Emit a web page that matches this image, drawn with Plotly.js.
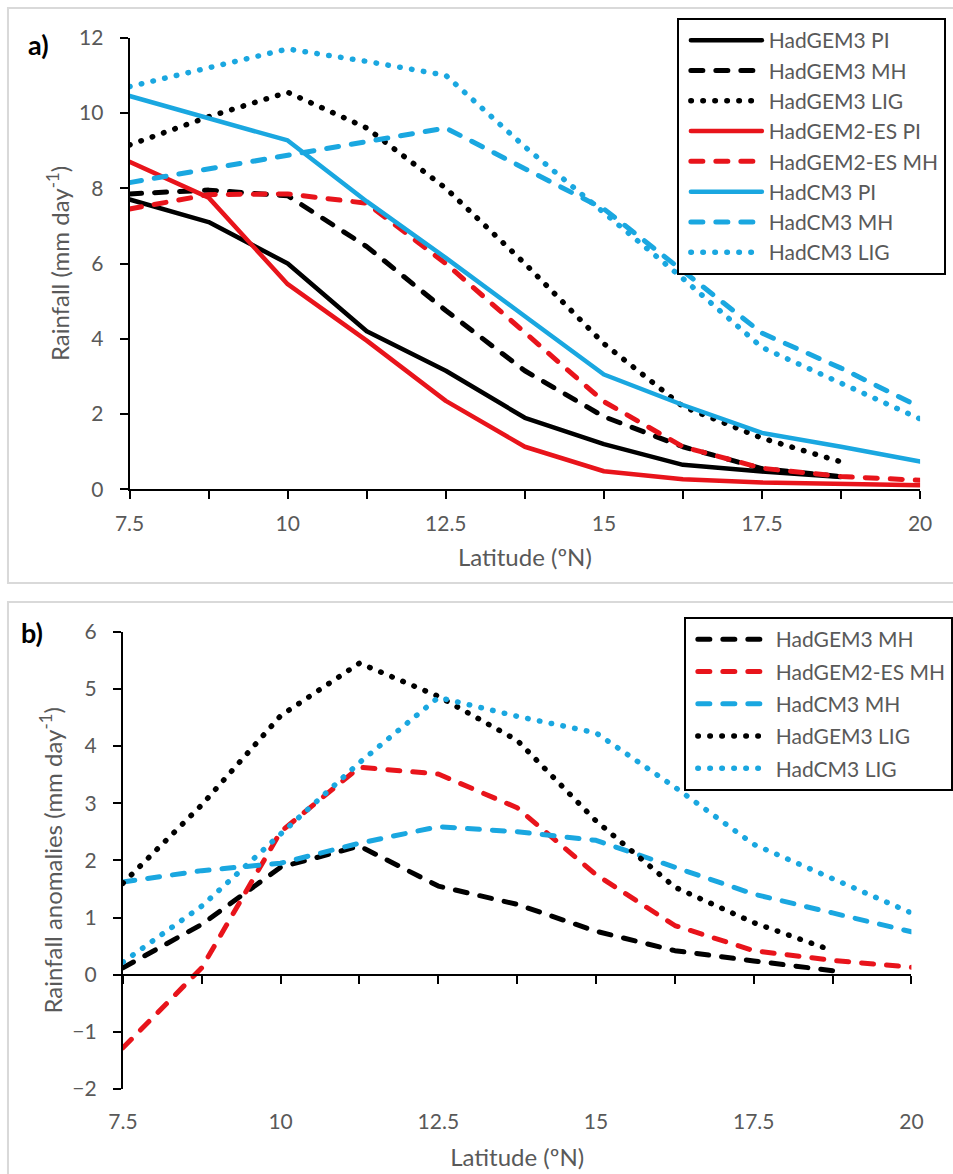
<!DOCTYPE html>
<html>
<head>
<meta charset="utf-8">
<script src="https://cdn.plot.ly/plotly-3.0.1.min.js"></script>
<style>html,body{margin:0;padding:0;background:#fff;}#chart{width:953px;height:1174px;}</style>
</head>
<body>
<div id="chart"></div>
<script>
// ---------- data ----------
const latitude = [7.5, 8.75, 10, 11.25, 12.5, 13.75, 15, 16.25, 17.5, 18.75, 20];
const latTickVals = [7.5, 10, 12.5, 15, 17.5, 20];
const latTickText = ['7.5', '10', '12.5', '15', '17.5', '20'];

// Panel a: rainfall (mm/day)
const hadgem3PI   = [7.7, 7.1, 6.0, 4.2, 3.15, 1.9, 1.2, 0.65, 0.47, 0.33, null];
const hadgem3MH   = [7.85, 7.95, 7.8, 6.45, 4.75, 3.15, 1.93, 1.13, 0.55, 0.34, null];
const hadgem3LIG  = [9.15, 9.9, 10.55, 9.6, 8.0, 6.0, 3.87, 2.2, 1.36, 0.73, null];
const hadgem2PI   = [8.7, 7.75, 5.45, 3.95, 2.35, 1.13, 0.48, 0.27, 0.18, 0.14, 0.11];
const hadgem2MH   = [7.45, 7.83, 7.85, 7.6, 6.0, 4.15, 2.33, 1.13, 0.56, 0.34, 0.24];
const hadcm3PI    = [10.45, 9.87, 9.27, 7.65, 6.15, 4.6, 3.05, 2.24, 1.5, 1.13, 0.74];
const hadcm3MH    = [8.15, 8.52, 8.88, 9.25, 9.6, 8.52, 7.45, 5.8, 4.15, 3.22, 2.18];
const hadcm3LIG   = [10.7, 11.2, 11.7, 11.37, 11.0, 9.1, 7.35, 5.6, 3.77, 2.82, 1.87];

// Panel b: rainfall anomalies (mm/day)
const anomHadgem3MH  = [0.12, 0.88, 1.88, 2.25, 1.55, 1.23, 0.76, 0.42, 0.24, 0.07, null];
const anomHadgem2MH  = [-1.28, 0.12, 2.5, 3.63, 3.51, 2.92, 1.75, 0.86, 0.42, 0.25, 0.13];
const anomHadcm3MH   = [1.62, 1.82, 1.95, 2.3, 2.59, 2.5, 2.35, 1.89, 1.41, 1.08, 0.75];
const anomHadgem3LIG = [1.6, 2.97, 4.53, 5.45, 4.87, 4.1, 2.69, 1.53, 0.91, 0.42, null];
const anomHadcm3LIG  = [0.22, 1.2, 2.46, 3.71, 4.85, 4.52, 4.23, 3.28, 2.28, 1.67, 1.08];

// ---------- styles ----------
const BLACK = '#000000', RED = '#E8141B', CYAN = '#1AA7E0';
const GREY = '#595959';
const FONT = 'Lato, "Open Sans", sans-serif';
const FS = 21, FS_TITLE = 24;
const W = 953, H = 1174;
const SOLID = 'solid', DASH = '12px,13px', DOT = '0.5px,11.5px';

function line(name, x, y, color, dash, xa, ya, leg) {
  return {
    type: 'scatter', mode: 'lines', name: name, x: x, y: y,
    xaxis: xa, yaxis: ya, legend: leg, connectgaps: false,
    line: {color: color, dash: dash, width: dash === SOLID ? 4.5 : (dash === DOT ? 5.5 : 5)},
    hoverinfo: 'skip'
  };
}

const traces = [
  line('HadGEM3 PI', latitude, hadgem3PI, BLACK, SOLID, 'x', 'y', 'legend'),
  line('HadGEM3 MH', latitude, hadgem3MH, BLACK, DASH, 'x', 'y', 'legend'),
  line('HadGEM3 LIG', latitude, hadgem3LIG, BLACK, DOT, 'x', 'y', 'legend'),
  line('HadGEM2-ES PI', latitude, hadgem2PI, RED, SOLID, 'x', 'y', 'legend'),
  line('HadGEM2-ES MH', latitude, hadgem2MH, RED, DASH, 'x', 'y', 'legend'),
  line('HadCM3 PI', latitude, hadcm3PI, CYAN, SOLID, 'x', 'y', 'legend'),
  line('HadCM3 MH', latitude, hadcm3MH, CYAN, DASH, 'x', 'y', 'legend'),
  line('HadCM3 LIG', latitude, hadcm3LIG, CYAN, DOT, 'x', 'y', 'legend'),

  line('HadGEM3 MH', latitude, anomHadgem3MH, BLACK, DASH, 'x2', 'y2', 'legend2'),
  line('HadGEM2-ES MH', latitude, anomHadgem2MH, RED, DASH, 'x2', 'y2', 'legend2'),
  line('HadCM3 MH', latitude, anomHadcm3MH, CYAN, DASH, 'x2', 'y2', 'legend2'),
  line('HadGEM3 LIG', latitude, anomHadgem3LIG, BLACK, DOT, 'x2', 'y2', 'legend2'),
  line('HadCM3 LIG', latitude, anomHadcm3LIG, CYAN, DOT, 'x2', 'y2', 'legend2')
];
traces.slice(8).forEach((t, i) => { t.legendgroup = 'b' + i; });

// zero-line axis for panel b (tick marks along y = 0)
traces.push({type: 'scatter', mode: 'lines', x: [], y: [], xaxis: 'x3', yaxis: 'y2', showlegend: false, hoverinfo: 'skip'});

// ---------- layout geometry (pixels of the reference) ----------
const aLeft = 130, aRight = 923, aTop = 37.7, aBottom = 489.3;
const bLeft = 123.3, bRight = 914.3, bTop = 631.7, bBottom = 1089;
const yRangeA = [0, 12], yRangeB = [-2, 6];
const bDomY = [1 - bBottom / H, 1 - bTop / H];
const zeroPos = bDomY[0] + (0 - yRangeB[0]) / (yRangeB[1] - yRangeB[0]) * (bDomY[1] - bDomY[0]);

const tickFont = {family: FONT, size: FS, color: GREY};
const minorTicks = {tickmode: 'array', tickvals: latitude, ticks: 'outside', ticklen: 8, tickwidth: 2, tickcolor: BLACK};

function xAxis(dom, anchor, standoff, extra) {
  return Object.assign({
    domain: dom, anchor: anchor, range: [latitude[0], latitude[latitude.length - 1]],
    tickmode: 'array', tickvals: latTickVals, ticktext: latTickText,
    showline: true, linecolor: BLACK, linewidth: 2,
    ticks: 'outside', ticklen: 8, tickwidth: 2, tickcolor: BLACK,
    minor: minorTicks,
    showgrid: false, zeroline: false, tickfont: tickFont,
    ticklabelstandoff: 6,
    title: {text: 'Latitude (ºN)', font: {family: FONT, size: FS_TITLE, color: GREY}, standoff: standoff}
  }, extra || {});
}
function yAxis(dom, anchor, range, dtick, title, standoff) {
  return {
    domain: dom, anchor: anchor, range: range, dtick: dtick, tick0: 0,
    showline: true, linecolor: BLACK, linewidth: 2,
    ticks: 'outside', ticklen: 8, tickwidth: 2, tickcolor: BLACK,
    showgrid: false, zeroline: false, tickfont: tickFont,
    ticklabelstandoff: 12,
    title: {text: title, font: {family: FONT, size: FS_TITLE, color: GREY}, standoff: standoff}
  };
}

const legendBase = {
  xanchor: 'left', yanchor: 'top', bgcolor: '#ffffff',
  bordercolor: BLACK, borderwidth: 2,
  font: {family: FONT, size: FS, color: GREY},
  itemwidth: 80, itemclick: false, itemdoubleclick: false
};

const layout = {
  width: W, height: H, margin: {l: 0, r: 0, t: 0, b: 0},
  paper_bgcolor: '#ffffff', plot_bgcolor: 'rgba(0,0,0,0)',
  showlegend: true,
  xaxis: xAxis([aLeft / W, aRight / W], 'y', 16),
  yaxis: yAxis([1 - aBottom / H, 1 - aTop / H], 'x', yRangeA, 2, 'Rainfall (mm day<sup>-1</sup>)', 3),
  xaxis2: xAxis([bLeft / W, bRight / W], 'y2', 16, {showline: false, tickcolor: 'rgba(0,0,0,0)',
    minor: {ticks: ''}}),
  yaxis2: yAxis(bDomY, 'x2', yRangeB, 1, 'Rainfall anomalies (mm day<sup>-1</sup>)', 3),
  xaxis3: {
    overlaying: 'x2', anchor: 'free', position: zeroPos,
    range: [latitude[0], latitude[latitude.length - 1]],
    tickmode: 'array', tickvals: latitude, showticklabels: false,
    showline: true, linecolor: BLACK, linewidth: 2,
    ticks: 'outside', ticklen: 8, tickwidth: 2, tickcolor: BLACK,
    showgrid: false, zeroline: false
  },
  legend: Object.assign({}, legendBase, {x: 679 / W, y: 1 - 18 / H, tracegroupgap: 0}),
  legend2: Object.assign({}, legendBase, {x: 686 / W, y: 1 - 617 / H, tracegroupgap: 2}),
  shapes: [
    {type: 'rect', xref: 'paper', yref: 'paper', x0: 8 / W, x1: 1.02, y0: 1 - 583 / H, y1: 1 - 8 / H,
     line: {color: '#D9D9D9', width: 2}, layer: 'below'},
    {type: 'rect', xref: 'paper', yref: 'paper', x0: 8 / W, x1: 1.02, y0: -0.02, y1: 1 - 602 / H,
     line: {color: '#D9D9D9', width: 2}, layer: 'below'}
  ],
  annotations: [
    {text: '<b>a)</b>', xref: 'paper', yref: 'paper', x: 26 / W, y: 1 - 44 / H, xanchor: 'left', yanchor: 'middle',
     showarrow: false, font: {family: FONT, size: 27, color: BLACK}},
    {text: '<b>b)</b>', xref: 'paper', yref: 'paper', x: 19 / W, y: 1 - 632 / H, xanchor: 'left', yanchor: 'middle',
     showarrow: false, font: {family: FONT, size: 27, color: BLACK}}
  ]
};

Plotly.newPlot('chart', traces, layout, {staticPlot: true, displayModeBar: false}).then(function () {
  document.querySelectorAll('.scatterlayer path.js-line').forEach(function (p) {
    p.style.strokeLinecap = 'round';
    p.style.strokeLinejoin = 'round';
  });
  // longer legend line samples, as in the reference
  document.querySelectorAll('.legendlines path').forEach(function (p) {
    p.setAttribute('d', 'M12,0h71');
    p.style.strokeLinecap = 'round';
  });
});
</script>
</body>
</html>
